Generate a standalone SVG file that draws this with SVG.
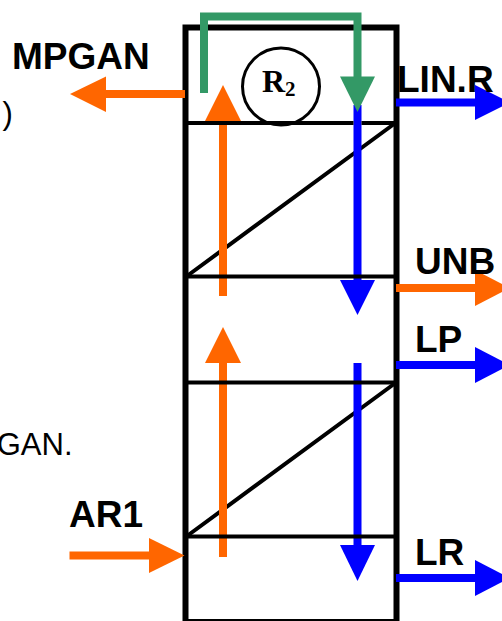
<svg xmlns="http://www.w3.org/2000/svg" width="502" height="621" viewBox="0 0 502 621">
<style>
.lbl{font-family:"Liberation Sans",Arial,sans-serif;font-weight:700;font-size:37px;fill:#000}
.note{font-family:"Liberation Sans",Arial,sans-serif;font-size:31px;fill:#000}
.ln{stroke:#000;stroke-width:4;fill:none}
.o{stroke:#f60;fill:none;stroke-width:8}
.b{stroke:#00f;fill:none;stroke-width:8}
.g{stroke:#396;fill:none;stroke-width:8}
</style>
<rect width="502" height="621" fill="#fff"/>
<g id="frame">
<path d="M185.500 621V27.500H396.500V621" fill="none" stroke="#000" stroke-width="6"/>
<path d="M185 620H397" fill="none" stroke="#000" stroke-width="2"/>
<path class="ln" d="M187 276L394 124M187 536L394 384"/>
</g>
<g id="node-r2">
<circle cx="281" cy="86.500" r="38.500" fill="#fff" stroke="#000" stroke-width="3"/>
<text x="262" y="92" font-family="Liberation Serif,serif" font-weight="700" font-size="32">R<tspan font-size="21" dy="4">2</tspan></text>
</g>
<g id="connectors">
<path class="o" d="M185 94H105"/><polygon fill="#f60" points="70,94 106,76.500 106,112"/>
<path class="o" d="M223 296V120"/><polygon fill="#f60" points="223,85 205,121 241,121"/>
<path class="o" d="M223 557V362"/><polygon fill="#f60" points="223,327 205,363 241,363"/>
<path class="o" d="M69.500 555.500H150"/><polygon fill="#f60" points="184.500,555.500 149,538 149,573"/>
<path class="b" d="M357.500 105V281"/><polygon fill="#00f" points="340,280 375,280 357.500,315"/>
<path class="b" d="M357.500 363V546"/><polygon fill="#00f" points="340,545 375,545 357.500,581"/>
<path class="g" d="M204 93V16.500H357.500V78"/><polygon fill="#396" points="340,76.500 375,76.500 357.500,112"/>
<path class="b" d="M396 102.500H476"/><polygon fill="#00f" points="475,85 475,120 510,102.500"/>
<path class="o" d="M396 288H476"/><polygon fill="#f60" points="475,270 475,306 510,288"/>
<path class="b" d="M396 365H476"/><polygon fill="#00f" points="475,347 475,383 510,365"/>
<path class="b" d="M396 578H476"/><polygon fill="#00f" points="475,560 475,596 510,578"/>
</g>
<g id="dividers">
<path class="ln" d="M186 123H353.500M361.500 123H395M186 276.500H395M186 382.500H395M186 536.500H395"/>
</g>
<g id="labels">
<text class="lbl" x="12" y="69">MPGAN</text>
<text class="lbl" x="397" y="92">LIN.R</text>
<text class="lbl" x="415" y="274">UNB</text>
<text class="lbl" x="415" y="352">LP</text>
<text class="lbl" x="415" y="565">LR</text>
<text class="lbl" x="69" y="527">AR1</text>
<text class="note" x="72.500" y="455" text-anchor="end">GAN.</text>
<text class="note" x="2.500" y="124">)</text>
</g>
</svg>
